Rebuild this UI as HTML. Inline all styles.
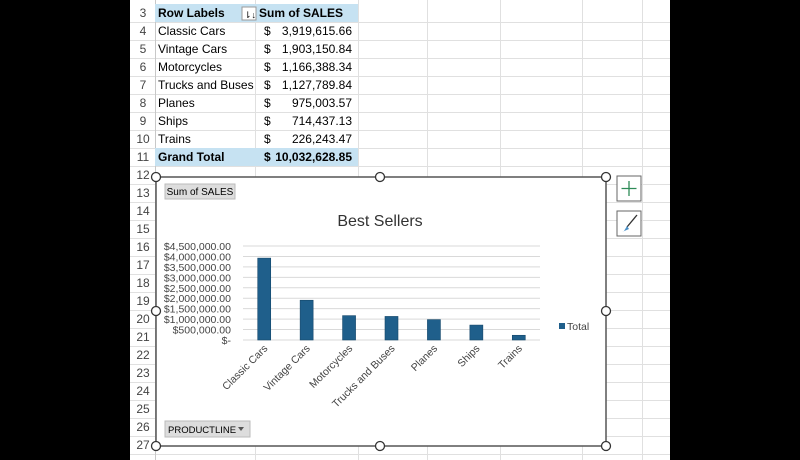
<!DOCTYPE html>
<html><head><meta charset="utf-8"><style>
body{margin:0;width:800px;height:460px;background:#000;position:relative;overflow:hidden;font-family:"Liberation Sans",sans-serif}
#sheet{position:absolute;left:130px;top:0;width:540px;height:460px;background:#fff}
.t{position:absolute;font-size:12px;color:#000;white-space:nowrap}
</style></head><body>
<div id="sheet">
<svg width="540" height="460" style="position:absolute;left:0;top:0" id="grid"></svg>
</div>
<svg id="chart" width="800" height="460" style="position:absolute;left:0;top:0"></svg>
<script>
const rowNums=[3,4,5,6,7,8,9,10,11,12,13,14,15,16,17,18,19,20,21,22,23,24,25,26,27];
const labels=["Classic Cars","Vintage Cars","Motorcycles","Trucks and Buses","Planes","Ships","Trains"];
const amounts=["3,919,615.66","1,903,150.84","1,166,388.34","1,127,789.84","975,003.57","714,437.13","226,243.47"];
const sales=[3919615.66,1903150.84,1166388.34,1127789.84,975003.57,714437.13,226243.47];
const ticks=[0,500000,1000000,1500000,2000000,2500000,3000000,3500000,4000000,4500000];
const tickLabels=["$-","$500,000.00","$1,000,000.00","$1,500,000.00","$2,000,000.00","$2,500,000.00","$3,000,000.00","$3,500,000.00","$4,000,000.00","$4,500,000.00"];
const NS="http://www.w3.org/2000/svg";
function mk(p,tag,a,txt){const e=document.createElementNS(NS,tag);for(const k in a)e.setAttribute(k,a[k]);if(txt!=null)e.textContent=txt;p.appendChild(e);return e;}
// grid (sheet coords offset 130)
const g=document.getElementById('grid');
const colX=[25,125,228,297,370,452,512];
for(let i=0;i<rowNums.length;i++){const top=4+i*18;
 mk(g,'line',{x1:0,x2:540,y1:top+18.5,y2:top+18.5,stroke:'#e0e0e0'});}
colX.forEach(x=>mk(g,'line',{x1:x+.5,x2:x+.5,y1:0,y2:460,stroke:'#e0e0e0'}));
mk(g,'line',{x1:25.5,x2:25.5,y1:0,y2:460,stroke:'#c8c8c8'});
// header & total rows
mk(g,'rect',{x:25,y:4,width:203,height:18,fill:'#c6e2f2'});
mk(g,'rect',{x:25,y:148,width:203,height:18,fill:'#c6e2f2'});
mk(g,'rect',{x:112,y:7,width:14,height:13,fill:'#fff',stroke:'#999'});
mk(g,'text',{x:114,y:18,'font-size':9},'⇂↓');
rowNums.forEach((n,i)=>{const t=mk(g,'text',{x:13,y:17+i*18,'font-size':12,'text-anchor':'middle',fill:'#444'},n);
});
const sh=document.getElementById('sheet');
function cell(x,y,txt,bold,name,anchor){const t=mk(g,'text',{x:x,y:y,'font-size':12,'font-weight':bold?'bold':'normal','text-anchor':anchor||'start'},txt);
}
cell(28,17,'Row Labels',true,'row-labels-header');
cell(129,17,'Sum of SALES',true,'sum-of-sales-header');
labels.forEach((l,i)=>{const y=35+i*18;cell(28,y,l,false,'row-label');cell(134,y,'$',false,'currency');cell(222,y,amounts[i],false,'sales-value','end');});
cell(28,161,'Grand Total',true,'grand-total-label');
cell(134,161,'$',true,'currency');
cell(222,161,'10,032,628.85',true,'grand-total-value','end');
// chart
const c=document.getElementById('chart');
mk(c,'rect',{x:156,y:177,width:450,height:269,fill:'#fff',stroke:'#555','stroke-width':1.5});
[[156,177],[380,177],[606,177],[156,311],[606,311],[156,446],[380,446],[606,446]].forEach(p=>{
 const h=mk(c,'circle',{cx:p[0],cy:p[1],r:4.5,fill:'#fff',stroke:'#333','stroke-width':1.3});
 });
const b1=mk(c,'g',{});
mk(b1,'rect',{x:165,y:184,width:70,height:15,fill:'#ddd',stroke:'#bbb'});
mk(b1,'text',{x:200,y:195,'font-size':10,'text-anchor':'middle'},'Sum of SALES');
const tt=mk(c,'text',{x:380,y:226,'font-size':16,'text-anchor':'middle',fill:'#333'},'Best Sellers');

const x0=243,x1=540,y0=340,yTop=246,maxV=4500000;
const ys=v=>y0-(v/maxV)*(y0-yTop);
const bw=(x1-x0)/labels.length;
const xs=i=>x0+bw*(i+.5);
ticks.forEach((t,i)=>{mk(c,'line',{x1:x0,x2:x1,y1:ys(t),y2:ys(t),stroke:'#d9d9d9'});
 const l=mk(c,'text',{x:231,y:ys(t)+4,'font-size':10.5,'text-anchor':'end',fill:'#444'},tickLabels[i]);
 });
sales.forEach((v,i)=>{const r=mk(c,'rect',{x:xs(i)-6.5,y:ys(v),width:13,height:y0-ys(v),fill:'#1f5f8b',stroke:'#15476a','stroke-width':.6});
 
 const cx=xs(i)+4,cy=349;
 const l=mk(c,'text',{x:cx,y:cy,'font-size':10.5,'text-anchor':'end',fill:'#444',transform:`rotate(-45 ${cx} ${cy})`},labels[i]);
 });
const lg=mk(c,'g',{});
mk(lg,'rect',{x:559,y:323,width:6,height:6,fill:'#1f5f8b'});
mk(lg,'text',{x:567,y:330,'font-size':10.5,fill:'#444'},'Total');
const b2=mk(c,'g',{});
mk(b2,'rect',{x:165,y:421,width:85,height:16,fill:'#ddd',stroke:'#bbb'});
mk(b2,'text',{x:168,y:433,'font-size':9.5},'PRODUCTLINE');
mk(b2,'path',{d:'M238 427 l6 0 l-3 4 z',fill:'#555'});
const p=mk(c,'g',{});
mk(p,'rect',{x:617,y:176,width:24,height:25,fill:'#fff',stroke:'#666'});
mk(p,'path',{d:'M629 181 v15 M621.5 188.5 h15',stroke:'#2e8b57','stroke-width':1.3});
const s=mk(c,'g',{});
mk(s,'rect',{x:617,y:211,width:24,height:25,fill:'#fff',stroke:'#666'});
mk(s,'path',{d:'M637 215 L627 227',stroke:'#333','stroke-width':1.3});
mk(s,'path',{d:'M627 226 L624 231 L622 232 L629 229 Z',fill:'#4a90c8'});
</script>
</body></html>
